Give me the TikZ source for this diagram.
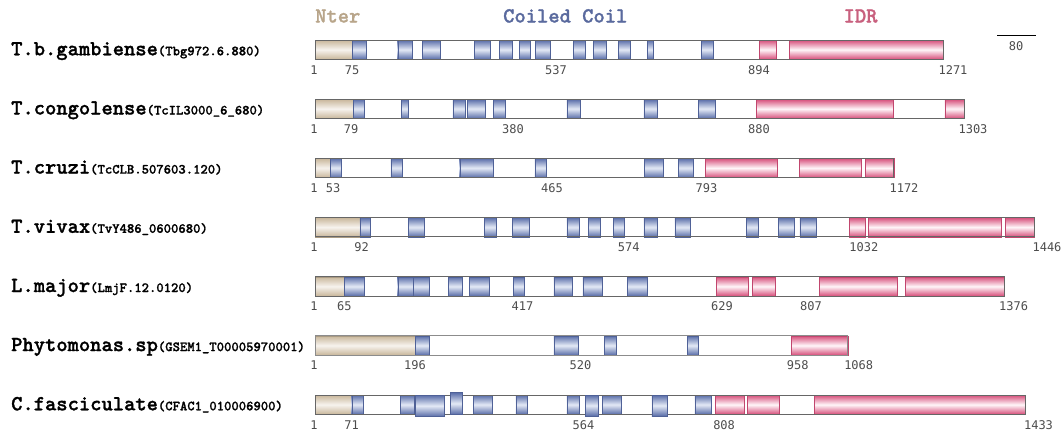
\documentclass[tikz,border=0pt]{standalone}
\usepackage{fontspec}
\newfontfamily\numfont{DejaVu Sans Mono}
\newfontfamily\namefont{lmmonolt10-bold.otf}[FakeBold=1.2]

\definecolor{tanD}{RGB}{200,182,154}
\definecolor{tanL}{RGB}{247,243,238}
\definecolor{ccD}{RGB}{88,108,168}
\definecolor{ccL}{RGB}{228,234,246}
\definecolor{idrD}{RGB}{214,78,122}
\definecolor{idrL}{RGB}{255,246,249}
\definecolor{nterTxt}{RGB}{184,165,138}
\definecolor{ccTxt}{RGB}{90,106,158}
\definecolor{idrTxt}{RGB}{200,96,126}

\tikzset{
  bar/.style={draw=black!60, line width=0.7pt},
  nter/.style={top color=tanD, bottom color=tanD, middle color=tanL, draw=tanD!85!black, line width=0.4pt},
  cc/.style={top color=ccD, bottom color=ccD, middle color=ccL, draw=ccD!90!black, line width=0.4pt},
  idr/.style={top color=idrD, bottom color=idrD, middle color=idrL, draw=idrD!90!black, line width=0.4pt},
  poslbl/.style={anchor=base, inner sep=0pt, text=black!70, font=\numfont\fontsize{12}{12}\selectfont},
  species/.style={anchor=base west, inner sep=0pt, font=\namefont\fontsize{21.5}{21}\selectfont},
  keytxt/.style={anchor=base west, inner sep=0pt, font=\namefont\fontsize{21.5}{21}\selectfont},
}
\newcommand{\pid}[1]{{\fontsize{14}{14}\selectfont #1}}

\begin{document}
\begin{tikzpicture}[x=1pt, y=-1pt]
        \useasboundingbox (0,0) rectangle (1064,434);

        % Legend
        \node[keytxt, text=nterTxt] (nterT) at (315,22.5) {Nter};
        \node[keytxt, text=ccTxt] (ccT) at (503,22.5) {Coiled Coil};
        \node[keytxt, text=idrTxt] (idrT) at (843.4,22.5) {IDR};

        % Scale bar
        \coordinate (sbL) at (997,35.7);
        \coordinate (sbR) at (1036,35.7);
        \draw[line width=1pt] (sbL) -- (sbR);
        \node[poslbl] (sbN) at (1016,50.5) {80};

        % T.b.gambiense
        \node[species] (gamb) at (11,55.3) {T.b.gambiense\pid{(Tbg972.6.880)}};
        \draw[nter] (315,40) rectangle (352,59.3);
        \draw[cc] (352,40) rectangle (366,59.3);
        \draw[cc] (397.7,40) rectangle (412.2,59.3);
        \draw[cc] (422.5,40) rectangle (440,59.3);
        \draw[cc] (474.5,40) rectangle (489.7,59.3);
        \draw[cc] (499.3,40) rectangle (512,59.3);
        \draw[cc] (519.3,40) rectangle (530.6,59.3);
        \draw[cc] (535,40) rectangle (550,59.3);
        \draw[cc] (573.3,40) rectangle (585.2,59.3);
        \draw[cc] (593.4,40) rectangle (606,59.3);
        \draw[cc] (618,40) rectangle (630,59.3);
        \draw[cc] (647.2,40) rectangle (653.6,59.3);
        \draw[cc] (701,40) rectangle (713.2,59.3);
        \draw[idr] (759,40) rectangle (776,59.3);
        \draw[idr] (789.5,40) rectangle (943.5,59.3);
        \draw[bar] (315,40) rectangle (943.5,59.3);
        \node[poslbl] (gamb1) at (314,74.1) {1};
        \node[poslbl] (gamb75) at (352,74.1) {75};
        \node[poslbl] (gamb537) at (556,74.1) {537};
        \node[poslbl] (gamb894) at (759,74.1) {894};
        \node[poslbl] (gamb1271) at (953,74.1) {1271};

        % T.congolense
        \node[species] (cong) at (11,114.5) {T.congolense\pid{(TcIL3000\_6\_680)}};
        \draw[nter] (315,99.2) rectangle (353.6,118.5);
        \draw[cc] (353.6,99.2) rectangle (364,118.5);
        \draw[cc] (401,99.2) rectangle (408,118.5);
        \draw[cc] (452.8,99.2) rectangle (465.6,118.5);
        \draw[cc] (467.3,99.2) rectangle (484.8,118.5);
        \draw[cc] (493,99.2) rectangle (505,118.5);
        \draw[cc] (566.8,99.2) rectangle (579.7,118.5);
        \draw[cc] (643.8,99.2) rectangle (656.7,118.5);
        \draw[cc] (698.6,99.2) rectangle (715,118.5);
        \draw[idr] (756.5,99.2) rectangle (892.7,118.5);
        \draw[idr] (944.8,99.2) rectangle (964.3,118.5);
        \draw[bar] (315,99.2) rectangle (964.3,118.5);
        \node[poslbl] (cong1) at (314,133.3) {1};
        \node[poslbl] (cong79) at (351,133.3) {79};
        \node[poslbl] (cong380) at (513,133.3) {380};
        \node[poslbl] (cong880) at (759,133.3) {880};
        \node[poslbl] (cong1303) at (973,133.3) {1303};

        % T.cruzi
        \node[species] (cruzi) at (11,173.6) {T.cruzi\pid{(TcCLB.507603.120)}};
        \draw[nter] (315,158.3) rectangle (330,177.6);
        \draw[cc] (330,158.3) rectangle (341.6,177.6);
        \draw[cc] (390.8,158.3) rectangle (401.9,177.6);
        \draw[cc] (459.7,158.3) rectangle (493.1,177.6);
        \draw[cc] (534.8,158.3) rectangle (546.3,177.6);
        \draw[cc] (644.4,158.3) rectangle (662.8,177.6);
        \draw[cc] (678.2,158.3) rectangle (693.1,177.6);
        \draw[idr] (705,158.3) rectangle (777.6,177.6);
        \draw[idr] (799.4,158.3) rectangle (860.7,177.6);
        \draw[idr] (865.5,158.3) rectangle (893.8,177.6);
        \draw[bar] (315,158.3) rectangle (893.8,177.6);
        \node[poslbl] (cruzi1) at (314,192.4) {1};
        \node[poslbl] (cruzi53) at (333,192.4) {53};
        \node[poslbl] (cruzi465) at (552,192.4) {465};
        \node[poslbl] (cruzi793) at (706.4,192.4) {793};
        \node[poslbl] (cruzi1172) at (904,192.4) {1172};

        % T.vivax
        \node[species] (vivax) at (11,232.8) {T.vivax\pid{(TvY486\_0600680)}};
        \draw[nter] (315,217.5) rectangle (359.8,236.8);
        \draw[cc] (359.8,217.5) rectangle (370.2,236.8);
        \draw[cc] (408,217.5) rectangle (424.2,236.8);
        \draw[cc] (484.5,217.5) rectangle (496.6,236.8);
        \draw[cc] (512.4,217.5) rectangle (529.6,236.8);
        \draw[cc] (566.8,217.5) rectangle (579,236.8);
        \draw[cc] (588.6,217.5) rectangle (600.5,236.8);
        \draw[cc] (613.4,217.5) rectangle (623.7,236.8);
        \draw[cc] (643.8,217.5) rectangle (657.4,236.8);
        \draw[cc] (674.8,217.5) rectangle (689.7,236.8);
        \draw[cc] (746.3,217.5) rectangle (757.9,236.8);
        \draw[cc] (778.3,217.5) rectangle (794.6,236.8);
        \draw[cc] (799.8,217.5) rectangle (816.4,236.8);
        \draw[idr] (849.5,217.5) rectangle (865.1,236.8);
        \draw[idr] (868.2,217.5) rectangle (1000.7,236.8);
        \draw[idr] (1005.5,217.5) rectangle (1034.4,236.8);
        \draw[bar] (315,217.5) rectangle (1034.4,236.8);
        \node[poslbl] (vivax1) at (314,251.6) {1};
        \node[poslbl] (vivax92) at (361.6,251.6) {92};
        \node[poslbl] (vivax574) at (628.8,251.6) {574};
        \node[poslbl] (vivax1032) at (863.8,251.6) {1032};
        \node[poslbl] (vivax1446) at (1047,251.6) {1446};

        % L.major
        \node[species] (major) at (11,292) {L.major\pid{(LmjF.12.0120)}};
        \draw[nter] (315,276.7) rectangle (344.3,296);
        \draw[cc] (344.3,276.7) rectangle (364,296);
        \draw[cc] (397.7,276.7) rectangle (413.2,296);
        \draw[cc] (413.2,276.7) rectangle (428.7,296);
        \draw[cc] (448.3,276.7) rectangle (462.1,296);
        \draw[cc] (469,276.7) rectangle (489,296);
        \draw[cc] (513,276.7) rectangle (524,296);
        \draw[cc] (553.8,276.7) rectangle (572.6,296);
        \draw[cc] (582.8,276.7) rectangle (602.2,296);
        \draw[cc] (627,276.7) rectangle (646.8,296);
        \draw[idr] (716.6,276.7) rectangle (748,296);
        \draw[idr] (752,276.7) rectangle (775.2,296);
        \draw[idr] (819.5,276.7) rectangle (897.2,296);
        \draw[idr] (905.3,276.7) rectangle (1004,296);
        \draw[bar] (315,276.7) rectangle (1004,296);
        \node[poslbl] (major1) at (314,310.8) {1};
        \node[poslbl] (major65) at (344.3,310.8) {65};
        \node[poslbl] (major417) at (522.4,310.8) {417};
        \node[poslbl] (major629) at (722,310.8) {629};
        \node[poslbl] (major807) at (811,310.8) {807};
        \node[poslbl] (major1376) at (1013.6,310.8) {1376};

        % Phytomonas.sp
        \node[species] (phyto) at (11,351.1) {Phytomonas.sp\pid{(GSEM1\_T00005970001)}};
        \draw[nter] (315,335.8) rectangle (415.6,355.1);
        \draw[cc] (415.6,335.8) rectangle (428.7,355.1);
        \draw[cc] (553.8,335.8) rectangle (577.7,355.1);
        \draw[cc] (604.3,335.8) rectangle (615.8,355.1);
        \draw[cc] (687.4,335.8) rectangle (697.9,355.1);
        \draw[idr] (791.6,335.8) rectangle (847.8,355.1);
        \draw[bar, draw=black!45] (315,335.8) rectangle (847.8,355.1);
        \node[poslbl] (phyto1) at (314,369.9) {1};
        \node[poslbl] (phyto196) at (415,369.9) {196};
        \node[poslbl] (phyto520) at (580.4,369.9) {520};
        \node[poslbl] (phyto958) at (797.7,369.9) {958};
        \node[poslbl] (phyto1068) at (858.7,369.9) {1068};

        % C.fasciculate
        \node[species] (fasc) at (11,410.3) {C.fasciculate\pid{(CFAC1\_010006900)}};
        \draw[nter] (315,395) rectangle (351.7,414.3);
        \draw[cc] (351.7,395) rectangle (363.3,414.3);
        \draw[cc] (400.5,395) rectangle (414.3,414.3);
        \draw[cc] (473.5,395) rectangle (492.4,414.3);
        \draw[cc] (515.8,395) rectangle (526.9,414.3);
        \draw[cc] (566.8,395) rectangle (579.4,414.3);
        \draw[cc] (602.2,395) rectangle (620.9,414.3);
        \draw[cc] (694.8,395) rectangle (710.9,414.3);
        \draw[idr] (715.6,395) rectangle (743.9,414.3);
        \draw[idr] (747.3,395) rectangle (779,414.3);
        \draw[idr] (814.4,395) rectangle (1025.6,414.3);
        \draw[bar] (315,395) rectangle (1025.6,414.3);
        \draw[cc] (415.6,395) rectangle (444.2,416.5);
        \draw[cc] (450.4,392.5) rectangle (462.1,414.3);
        \draw[cc] (585.2,395) rectangle (597.8,416);
        \draw[cc] (651.9,395) rectangle (667.6,416);
        \node[poslbl] (fasc1) at (314,429.1) {1};
        \node[poslbl] (fasc71) at (351.7,429.1) {71};
        \node[poslbl] (fasc564) at (583.5,429.1) {564};
        \node[poslbl] (fasc808) at (724.1,429.1) {808};
        \node[poslbl] (fasc1433) at (1038.5,429.1) {1433};
\end{tikzpicture}
\end{document}
